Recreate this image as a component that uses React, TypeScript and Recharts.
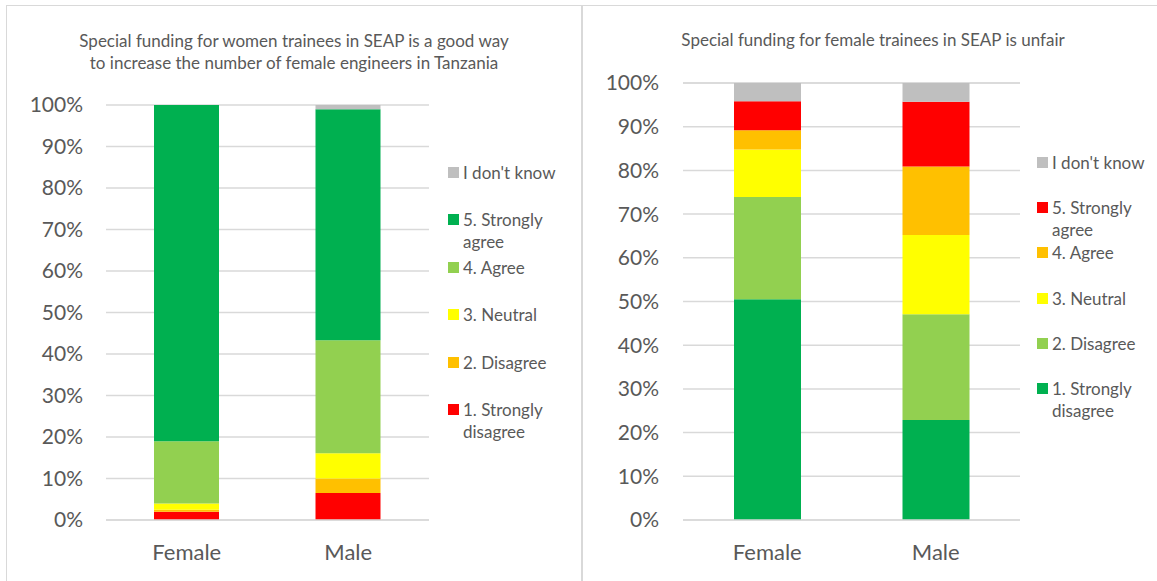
import React from 'react';
import { BarChart, Bar, XAxis, YAxis, CartesianGrid, Legend } from 'recharts';

// categories and answer labels
const categories = ['Female', 'Male'];
const answers = [
  '1. Strongly disagree',
  '2. Disagree',
  '3. Neutral',
  '4. Agree',
  '5. Strongly agree',
  "I don't know",
];
const yTicks = [0, 10, 20, 30, 40, 50, 60, 70, 80, 90, 100];

// "Special funding ... is a good way ..." (% of respondents)
const goodStronglyDisagree = [2.0, 6.5];
const goodDisagree = [0.5, 3.5];
const goodNeutral = [1.5, 6.1];
const goodAgree = [15.0, 27.2];
const goodStronglyAgree = [81.0, 55.7];
const goodDontKnow = [0, 1.0];

// "Special funding ... is unfair" (% of respondents)
const unfairStronglyDisagree = [50.5, 22.9];
const unfairDisagree = [23.4, 24.2];
const unfairNeutral = [10.9, 18.1];
const unfairAgree = [4.4, 15.7];
const unfairStronglyAgree = [6.6, 14.8];
const unfairDontKnow = [4.2, 4.3];

const goodColors = ['#FF0000', '#FFC000', '#FFFF00', '#92D050', '#00B050', '#BFBFBF'];
const unfairColors = ['#00B050', '#92D050', '#FFFF00', '#FFC000', '#FF0000', '#BFBFBF'];

const FONT = 'Lato, "Open Sans", sans-serif';
const TEXT = '#595959';
const GRID = '#d9d9d9';

function buildRows(series: number[][]) {
  return categories.map((c, i) => {
    const row: Record<string, string | number> = { name: c };
    answers.forEach((a, k) => {
      row[a] = series[k][i];
    });
    return row;
  });
}

const goodData = buildRows([
  goodStronglyDisagree,
  goodDisagree,
  goodNeutral,
  goodAgree,
  goodStronglyAgree,
  goodDontKnow,
]);
const unfairData = buildRows([
  unfairStronglyDisagree,
  unfairDisagree,
  unfairNeutral,
  unfairAgree,
  unfairStronglyAgree,
  unfairDontKnow,
]);

function makeLegend(itemHeight: number) {
  return (props: any) => {
    const items = [...(props.payload || [])].sort(
      (a: any, b: any) => answers.indexOf(b.value) - answers.indexOf(a.value)
    );
    return (
      <div style={{ fontFamily: FONT, fontSize: 17, color: TEXT, width: 122 }}>
        {items.map((it: any) => (
          <div key={it.value} style={{ height: itemHeight, display: 'flex', alignItems: 'flex-start' }}>
            <span
              style={{
                display: 'inline-block',
                width: 11,
                height: 11,
                marginTop: 5,
                marginRight: 4,
                background: it.color,
                flex: 'none',
              }}
            />
            <span style={{ lineHeight: '22px', width: 107 }}>{it.value}</span>
          </div>
        ))}
      </div>
    );
  };
}

type PanelProps = {
  data: Record<string, string | number>[];
  colors: string[];
  width: number;
  margin: { top: number; right: number; bottom: number; left: number };
  yWidth: number;
  yMargin: number;
  barSize: number;
  legendLeft: number;
  legendTop: number;
  itemHeight: number;
};

function StackPanel(p: PanelProps) {
  return (
    <BarChart width={p.width} height={581} data={p.data} margin={p.margin}>
      <CartesianGrid vertical={false} stroke={GRID} strokeWidth={1.5} />
      <XAxis
        dataKey="name"
        height={40}
        tickLine={false}
        axisLine={{ stroke: GRID, strokeWidth: 1.5 }}
        tickSize={0}
        tickMargin={24}
        tick={{ fill: TEXT, fontSize: 22, fontFamily: FONT }}
      />
      <YAxis
        width={p.yWidth}
        domain={[0, 100]}
        ticks={yTicks}
        interval={0}
        tickFormatter={(v: number) => `${v}%`}
        axisLine={false}
        tickLine={false}
        tickSize={0}
        tickMargin={p.yMargin}
        tick={{ fill: TEXT, fontSize: 21, fontFamily: FONT }}
      />
      <Legend
        layout="vertical"
        align="center"
        verticalAlign="middle"
        content={makeLegend(p.itemHeight)}
        wrapperStyle={{ left: p.legendLeft, top: p.legendTop, width: 122 }}
      />
      {answers.map((a, k) => (
        <Bar
          key={a}
          dataKey={a}
          name={a}
          stackId="s"
          fill={p.colors[k]}
          barSize={p.barSize}
          isAnimationActive={false}
        />
      ))}
    </BarChart>
  );
}

export default function App() {
  const titleStyle: React.CSSProperties = {
    position: 'absolute',
    textAlign: 'center',
    fontFamily: FONT,
    fontSize: 17,
    lineHeight: '22px',
    color: TEXT,
  };
  return (
    <div
      style={{
        position: 'absolute',
        left: 0,
        top: 0,
        width: 1157,
        height: 581,
        overflow: 'hidden',
        background: '#fff',
      }}
    >
      <div
        style={{
          position: 'absolute',
          left: 6,
          top: 5,
          width: 576,
          height: 600,
          border: `1.5px solid ${GRID}`,
          boxSizing: 'border-box',
        }}
      />
      <div
        style={{
          position: 'absolute',
          left: 582,
          top: 5,
          width: 600,
          height: 600,
          border: `1.5px solid ${GRID}`,
          boxSizing: 'border-box',
        }}
      />
      <div style={{ ...titleStyle, left: 7, width: 574, top: 30 }}>
        Special funding for women trainees in SEAP is a good way
        <br />
        to increase the number of female engineers in Tanzania
      </div>
      <div style={{ ...titleStyle, left: 583, width: 580, top: 29 }}>
        Special funding for female trainees in SEAP is unfair
      </div>
      <div style={{ position: 'absolute', left: 0, top: 0 }}>
        <StackPanel
          data={goodData}
          colors={goodColors}
          width={580}
          margin={{ top: 105, right: 151, bottom: 21, left: 0 }}
          yWidth={106}
          yMargin={23}
          barSize={65}
          legendLeft={448}
          legendTop={162}
          itemHeight={47.4}
        />
      </div>
      <div style={{ position: 'absolute', left: 580, top: 0 }}>
        <StackPanel
          data={unfairData}
          colors={unfairColors}
          width={577}
          margin={{ top: 83, right: 137, bottom: 21, left: 0 }}
          yWidth={103}
          yMargin={24}
          barSize={67}
          legendLeft={457}
          legendTop={152}
          itemHeight={45.2}
        />
      </div>
    </div>
  );
}
